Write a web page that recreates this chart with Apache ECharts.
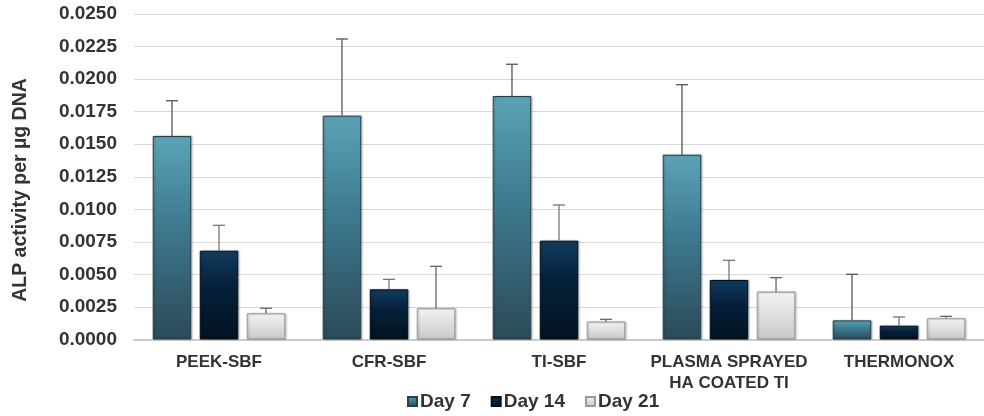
<!DOCTYPE html>
<html><head><meta charset="utf-8">
<script src="https://cdn.jsdelivr.net/npm/echarts@6/dist/echarts.min.js"></script>
<style>html,body{margin:0;padding:0;background:#fff}#c{width:984px;height:416px}</style>
</head><body><div id="c"></div>
<script>
const categories = ['PEEK-SBF', 'CFR-SBF', 'TI-SBF', 'PLASMA SPRAYED\nHA COATED TI', 'THERMONOX'];
const seriesNames = ['Day 7', 'Day 14', 'Day 21'];
const day7 = [0.01563, 0.01719, 0.01870, 0.01419, 0.00147];
const day14 = [0.00682, 0.00385, 0.00759, 0.00457, 0.00106];
const day21 = [0.00201, 0.00240, 0.00137, 0.00367, 0.00163];
const day7Err = [0.01834, 0.02308, 0.02114, 0.01957, 0.00501];
const day14Err = [0.00877, 0.00462, 0.01033, 0.00608, 0.00173];
const day21Err = [0.00240, 0.00562, 0.00155, 0.00475, 0.00178];
const yAxisTitle = 'ALP activity per µg DNA';

const values = [day7, day14, day21];
const errTops = [day7Err, day14Err, day21Err];
const styles = [
  {top: '#5aa0b4', mid: '#3f7d93', bot: '#2b4a58', border: '#27414d', err: '#555'},
  {top: '#0f3a5c', mid: '#06203a', bot: '#021320', border: '#02101a', err: '#777'},
  {top: '#f2f2f2', mid: '#e2e2e2', bot: '#c9c9c9', border: '#9a9a9a', err: '#666'}
];
const CAT_GAP = 0.22, BAR_GAP = 0.22;

const chart = echarts.init(document.getElementById('c'), null, {renderer: 'canvas'});
const series = [];
seriesNames.forEach((name, i) => {
  const s = styles[i];
  series.push({
    name, type: 'bar', data: values[i],
    barCategoryGap: (CAT_GAP * 100) + '%', barGap: (BAR_GAP * 100) + '%',
    itemStyle: {
      color: new echarts.graphic.LinearGradient(0, 0, 0, 1, [
        {offset: 0, color: s.top}, {offset: 0.03, color: s.top}, {offset: 0.4, color: s.mid}, {offset: 1, color: s.bot}
      ]),
      borderColor: s.border, borderWidth: 1,
      shadowColor: 'rgba(0,0,0,0.25)', shadowBlur: 2, shadowOffsetX: 1
    },
    z: 2
  });
});
seriesNames.forEach((name, i) => {
  series.push({
    type: 'custom', name: name + ' err', z: 3,
    data: values[i].map((v, k) => [k, v, errTops[i][k]]),
    renderItem: function (params, api) {
      const k = api.value(0);
      const base = api.coord([k, api.value(1)]);
      const top = api.coord([k, api.value(2)]);
      const catW = api.size([1, 0])[0];
      const groupW = catW * (1 - CAT_GAP);
      const barW = groupW / (3 + 2 * BAR_GAP);
      const x = base[0] + (i - 1) * barW * (1 + BAR_GAP);
      const col = styles[i].err;
      return {type: 'group', children: [
        {type: 'line', shape: {x1: x, y1: base[1], x2: x, y2: top[1]}, style: {stroke: col, lineWidth: 1.3}},
        {type: 'line', shape: {x1: x - 6, y1: top[1], x2: x + 6, y2: top[1]}, style: {stroke: col, lineWidth: 1.3}}
      ]};
    },
    tooltip: {show: false}
  });
});

chart.setOption({
  animation: false,
  grid: {left: 134, right: -8, top: 14, bottom: 76.5, containLabel: false},
  legend: {
    data: seriesNames, left: 402, top: 387, itemWidth: 9, itemHeight: 9, itemGap: 20,
    icon: 'rect',
    textStyle: {fontFamily: 'Liberation Sans', fontWeight: 'bold', fontSize: 19, color: '#333', padding: [0, 0, 0, -2]}
  },
  graphic: [{
    type: 'text', x: 21, y: 190, rotation: Math.PI / 2,
    style: {text: yAxisTitle, fontFamily: 'Liberation Sans', fontWeight: 'bold', fontSize: 19.5, fill: '#333',
      align: 'center', verticalAlign: 'middle'}
  }],
  xAxis: {
    type: 'category', data: categories,
    axisLine: {lineStyle: {color: '#bfbfbf', width: 1.5}},
    axisTick: {show: false},
    axisLabel: {fontFamily: 'Liberation Sans', fontWeight: 'bold', fontSize: 17, color: '#333', margin: 12, lineHeight: 21, interval: 0}
  },
  yAxis: {
    type: 'value', min: 0, max: 0.025, interval: 0.0025,
    axisLine: {show: false}, axisTick: {show: false},
    axisLabel: {fontFamily: 'Liberation Sans', fontWeight: 'bold', fontSize: 19, color: '#333', margin: 17,
      formatter: v => v.toFixed(4)},
    splitLine: {lineStyle: {color: '#d9d9d9', width: 1.2}}
  },
  series
});
</script></body></html>
